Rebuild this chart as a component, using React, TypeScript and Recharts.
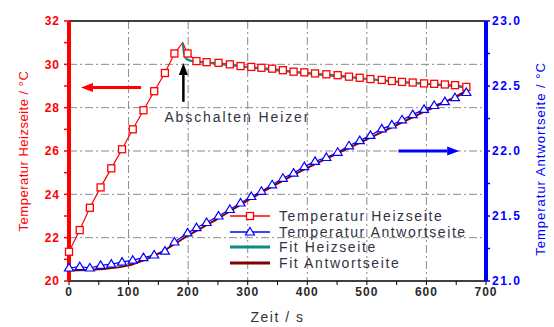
import {
  ComposedChart,
  Line,
  XAxis,
  YAxis,
  CartesianGrid,
  ReferenceLine,
  Legend,
  Label,
} from 'recharts';

// Messzeitpunkte (s), gemeinsam fuer beide Messreihen
const messZeit = [
  0, 18, 35, 53, 71, 89, 107, 125, 143, 161, 177, 199, 214, 231, 251, 270, 288, 306, 323,
  341, 359, 377, 395, 413, 432, 451, 470, 488, 506, 525, 542, 559, 577, 596, 613, 631, 648, 667,
];
const heizTemp = [
  21.35, 22.35, 23.38, 24.32, 25.2, 26.08, 27.0, 27.88, 28.76, 29.6, 30.5, 30.5, 30.15, 30.1,
  30.07, 30.0, 29.92, 29.88, 29.84, 29.8, 29.73, 29.66, 29.63, 29.58, 29.54, 29.5, 29.43, 29.38,
  29.32, 29.28, 29.23, 29.19, 29.16, 29.12, 29.1, 29.07, 29.04, 28.96,
];
// Spitze beim Abschalten (ohne Marker)
const peakZeit = 191;
const peakTemp = 31.0;
const antwTemp = [
  21.1, 21.11, 21.1, 21.12, 21.13, 21.145, 21.16, 21.18, 21.2, 21.23, 21.3, 21.37, 21.41, 21.45,
  21.5, 21.55, 21.6, 21.65, 21.69, 21.74, 21.79, 21.83, 21.88, 21.92, 21.95, 21.99, 22.04, 22.08,
  22.12, 22.17, 22.2, 22.24, 22.28, 22.32, 22.35, 22.38, 22.41, 22.45,
];
const fitHeizZeit = [191, 193, 196, 200, 210, 225, 250, 300, 350, 400, 450, 500, 550, 600, 650, 668];
const fitHeizTemp = [
  30.98, 30.5, 30.28, 30.2, 30.14, 30.09, 30.02, 29.87, 29.72, 29.58, 29.45, 29.32, 29.2, 29.09,
  28.98, 28.93,
];
const fitAntwZeit = [0, 50, 100, 125, 150, 200, 250, 300, 350, 400, 450, 500, 550, 600, 650, 670];
const fitAntwTemp = [
  21.08, 21.09, 21.12, 21.16, 21.21, 21.35, 21.48, 21.62, 21.75, 21.87, 21.98, 22.09, 22.2, 22.31,
  22.42, 22.47,
];

const xTicks = [0, 50, 100, 150, 200, 250, 300, 350, 400, 450, 500, 550, 600, 650, 700];
const leftTicks = [20, 21, 22, 23, 24, 25, 26, 27, 28, 29, 30, 31, 32];
const rightTicks = [21, 21.25, 21.5, 21.75, 22, 22.25, 22.5, 22.75, 23];
const gridX = [100, 200, 300, 400, 500, 600];
const gridY = [22, 24, 26, 28, 30];

const RED = '#ff0000';
const BLUE = '#0000ff';
const TEAL = '#0f8a84';
const DARKRED = '#800000';
const FONT = '"Liberation Sans", Arial, sans-serif';

const heizData = messZeit
  .map((t, i) => ({ t, v: heizTemp[i] }))
  .concat([{ t: peakZeit, v: peakTemp }])
  .sort((a, b) => a.t - b.t);
const antwData = messZeit.map((t, i) => ({ t, v: antwTemp[i] }));
const fitHeizData = fitHeizZeit.map((t, i) => ({ t, v: fitHeizTemp[i] }));
const fitAntwData = fitAntwZeit.map((t, i) => ({ t, v: fitAntwTemp[i] }));

const legendItems = [
  { name: 'Temperatur Heizseite', color: RED, marker: 'square' },
  { name: 'Temperatur Antwortseite', color: BLUE, marker: 'triangle' },
  { name: 'Fit Heizseite', color: TEAL, marker: '' },
  { name: 'Fit Antwortseite', color: DARKRED, marker: '' },
];

const SquareDot = (p: any) => {
  const { cx, cy, payload, index } = p;
  if (payload.t === peakZeit) return <g key={`s${index}`} />;
  return (
    <rect key={`s${index}`} x={cx - 3.5} y={cy - 3.5} width={7} height={7}
      fill="#fff" stroke={RED} strokeWidth={1.3} />
  );
};

const TriangleDot = (p: any) => {
  const { cx, cy, index } = p;
  return (
    <polygon key={`t${index}`}
      points={`${cx},${cy - 4.5} ${cx + 4.5},${cy + 3} ${cx - 4.5},${cy + 3}`}
      fill="#fff" stroke={BLUE} strokeWidth={1.2} />
  );
};

const arrow = (color: string, w: number, text?: string) => (p: any) => {
  const { x1, y1, x2, y2 } = p;
  const a = Math.atan2(y2 - y1, x2 - x1);
  const hl = 12;
  const hw = 4.5;
  const bx = x2 - hl * Math.cos(a);
  const by = y2 - hl * Math.sin(a);
  const nx = -Math.sin(a) * hw;
  const ny = Math.cos(a) * hw;
  return (
    <g>
      <line x1={x1} y1={y1} x2={bx} y2={by} stroke={color} strokeWidth={w} />
      <polygon points={`${x2},${y2} ${bx + nx},${by + ny} ${bx - nx},${by - ny}`} fill={color} />
      {text && (
        <text x={x1 - 19} y={y1 + 20} fill="#333344" fontSize={14} letterSpacing={1.9}
          fontFamily={FONT}>
          {text}
        </text>
      )}
    </g>
  );
};

const LegendBox = () => (
  <div style={{ fontFamily: FONT, color: '#333344' }}>
    {legendItems.map((it) => (
      <div key={it.name} style={{ display: 'flex', alignItems: 'center', height: 15.7 }}>
        <svg width={44} height={12}>
          <line x1={2} y1={6} x2={42} y2={6} stroke={it.color}
            strokeWidth={it.marker ? 1.3 : 3} />
          {it.marker === 'square' && (
            <rect x={18.5} y={2.5} width={7} height={7} fill="#fff" stroke={it.color}
              strokeWidth={1.3} />
          )}
          {it.marker === 'triangle' && (
            <polygon points="22,1.5 26.5,9 17.5,9" fill="#fff" stroke={it.color}
              strokeWidth={1.2} />
          )}
        </svg>
        <span style={{ fontSize: 14, letterSpacing: 1.6, marginLeft: 7, whiteSpace: 'nowrap' }}>
          {it.name}
        </span>
      </div>
    ))}
  </div>
);

const App = () => {
  const tickFont = { fontSize: 12, fontWeight: 'bold', fontFamily: FONT };
  return (
    <div style={{ position: 'absolute', left: 0, top: 0, background: '#fff' }}>
      <ComposedChart width={554} height={327} margin={{ top: 21, right: 0, left: 0, bottom: 0 }}>
        <CartesianGrid yAxisId="left" verticalValues={gridX} horizontalValues={gridY}
          stroke="#8a8a8a" strokeDasharray="8 3 2 3" />
        <XAxis dataKey="t" type="number" domain={[0, 700]} ticks={xTicks} interval={0}
          height={46} tickSize={4} tickMargin={2}
          axisLine={{ stroke: '#000', strokeWidth: 1.5 }} tickLine={{ stroke: '#000' }}
          tick={{ ...tickFont, fill: '#2a2a2a', letterSpacing: 1 }}
          tickFormatter={(v: number) => (v % 100 === 0 ? String(v) : '')}>
          <Label content={({ viewBox }: any) => (
            <text x={viewBox.x + viewBox.width / 2} y={viewBox.y + 41} textAnchor="middle"
              fill="#333333" fontSize={14} letterSpacing={1.5} fontFamily={FONT}>
              Zeit / s
            </text>
          )} />
        </XAxis>
        <YAxis yAxisId="left" domain={[20, 32]} ticks={leftTicks} interval={0} width={69}
          tickSize={5} tickMargin={4}
          axisLine={{ stroke: RED, strokeWidth: 4 }} tickLine={{ stroke: RED, strokeWidth: 1.5 }}
          tick={{ ...tickFont, fill: RED, letterSpacing: 1 }}
          tickFormatter={(v: number) => (v % 2 === 0 ? String(v) : '')}>
          <Label content={({ viewBox }: any) => {
            const x = 28;
            const y = viewBox.y + viewBox.height / 2;
            return (
              <text x={x} y={y} transform={`rotate(-90 ${x} ${y})`} textAnchor="middle"
                fill={RED} fontSize={13} letterSpacing={0.5} fontFamily={FONT}>
                Temperatur Heizseite / °C
              </text>
            );
          }} />
        </YAxis>
        <YAxis yAxisId="right" orientation="right" domain={[21, 23]} ticks={rightTicks}
          interval={0} width={68} tickSize={4} tickMargin={2}
          axisLine={{ stroke: BLUE, strokeWidth: 4 }} tickLine={{ stroke: BLUE, strokeWidth: 1.5 }}
          tick={{ ...tickFont, fill: BLUE, letterSpacing: 1.5 }}
          tickFormatter={(v: number) => (Math.abs(v * 2 - Math.round(v * 2)) < 1e-6 ? v.toFixed(1) : '')}>
          <Label content={({ viewBox }: any) => {
            const x = viewBox.x + 59;
            const y = viewBox.y + viewBox.height / 2 + 8;
            return (
              <text x={x} y={y} transform={`rotate(-90 ${x} ${y})`} textAnchor="middle"
                fill={BLUE} fontSize={13} letterSpacing={1} fontFamily={FONT}>
                Temperatur Antwortseite / °C
              </text>
            );
          }} />
        </YAxis>
        <ReferenceLine yAxisId="left" y={32} stroke="#000" strokeWidth={1.5} />
        <Line yAxisId="left" data={heizData} dataKey="v" type="linear" stroke={RED}
          strokeWidth={1.2} dot={SquareDot} activeDot={false} isAnimationActive={false} />
        <Line yAxisId="right" data={antwData} dataKey="v" type="linear" stroke={BLUE}
          strokeWidth={1.2} dot={TriangleDot} activeDot={false} isAnimationActive={false} />
        <Line yAxisId="left" data={fitHeizData} dataKey="v" type="monotone" stroke={TEAL}
          strokeWidth={2} dot={false} activeDot={false} isAnimationActive={false} />
        <Line yAxisId="right" data={fitAntwData} dataKey="v" type="monotone" stroke={DARKRED}
          strokeWidth={2} dot={false} activeDot={false} isAnimationActive={false} />
        <ReferenceLine yAxisId="left" segment={[{ x: 121, y: 28.93 }, { x: 20, y: 28.93 }]}
          shape={arrow(RED, 3)} />
        <ReferenceLine yAxisId="right" segment={[{ x: 553, y: 22.0 }, { x: 655, y: 22.0 }]}
          shape={arrow(BLUE, 3)} />
        <ReferenceLine yAxisId="left" segment={[{ x: 192, y: 28.27 }, { x: 192, y: 30.06 }]}
          shape={arrow('#000', 2.5, 'Abschalten Heizer')} />
        <Legend layout="vertical" align="center" verticalAlign="middle" content={LegendBox}
          wrapperStyle={{ position: 'absolute', left: 228, top: 208, width: 262 }} />
      </ComposedChart>
    </div>
  );
};

export default App;
